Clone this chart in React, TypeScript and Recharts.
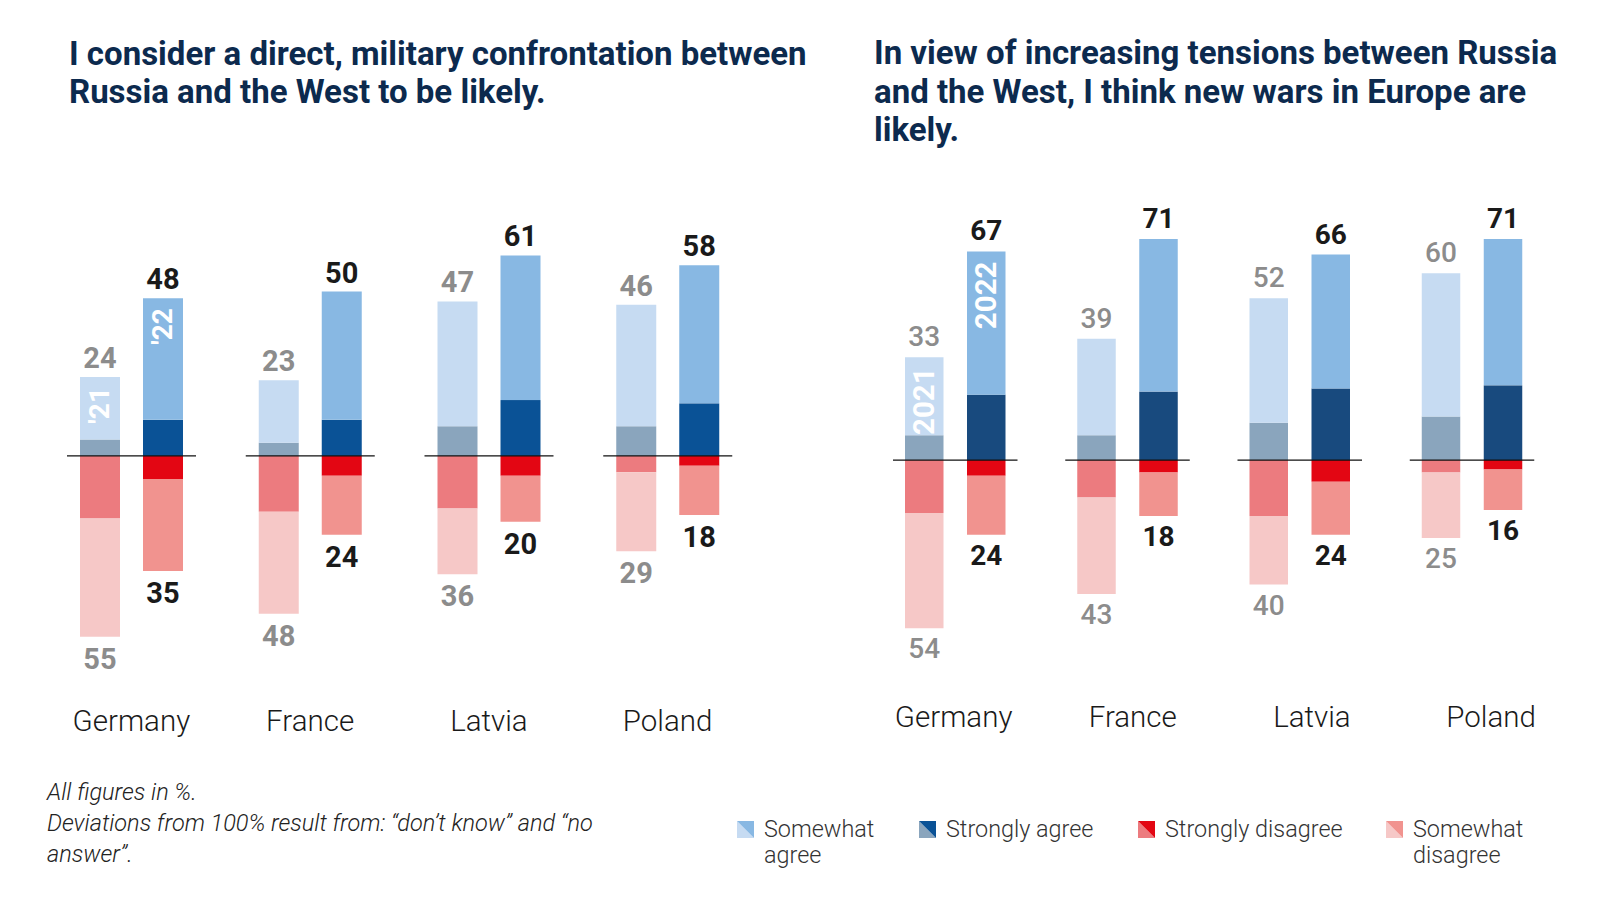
import { BarChart, Bar, XAxis, YAxis, LabelList } from "recharts";

const COUNTRIES = ["Germany", "France", "Latvia", "Poland"];

// "I consider a direct, military confrontation between Russia and the West to be likely."
const conflictStrongAgree21 = [5, 4, 9, 9];
const conflictSomewhatAgree21 = [19, 19, 38, 37];
const conflictStrongDisagree21 = [19, 17, 16, 5];
const conflictSomewhatDisagree21 = [36, 31, 20, 24];
const conflictStrongAgree22 = [11, 11, 17, 16];
const conflictSomewhatAgree22 = [37, 39, 44, 42];
const conflictStrongDisagree22 = [7, 6, 6, 3];
const conflictSomewhatDisagree22 = [28, 18, 14, 15];
const conflictAgreeTotal21 = [24, 23, 47, 46];
const conflictDisagreeTotal21 = [55, 48, 36, 29];
const conflictAgreeTotal22 = [48, 50, 61, 58];
const conflictDisagreeTotal22 = [35, 24, 20, 18];

// "In view of increasing tensions ... new wars in Europe are likely."
const warsStrongAgree21 = [8, 8, 12, 14];
const warsSomewhatAgree21 = [25, 31, 40, 46];
const warsStrongDisagree21 = [17, 12, 18, 4];
const warsSomewhatDisagree21 = [37, 31, 22, 21];
const warsStrongAgree22 = [21, 22, 23, 24];
const warsSomewhatAgree22 = [46, 49, 43, 47];
const warsStrongDisagree22 = [5, 4, 7, 3];
const warsSomewhatDisagree22 = [19, 14, 17, 13];
const warsAgreeTotal21 = [33, 39, 52, 60];
const warsDisagreeTotal21 = [54, 43, 40, 25];
const warsAgreeTotal22 = [67, 71, 66, 71];
const warsDisagreeTotal22 = [24, 18, 24, 16];

const FONT = "Roboto, sans-serif";
const TITLE_COLOR = "#0c2a4e";
const GRAY_LABEL = "#8c8c8c";
const DARK_LABEL = "#1a1a1a";

const COLORS = {
  somewhatAgree21: "#c6dbf2",
  strongAgree21: "#8aa5bd",
  strongDisagree21: "#ec7b7f",
  somewhatDisagree21: "#f6c8c7",
  somewhatAgree22: "#88b8e3",
  strongDisagree22: "#e30613",
  somewhatDisagree22: "#f1938f",
};

type Row = {
  country: string;
  sa21: number;
  wa21: number;
  sd21: number;
  wd21: number;
  sa22: number;
  wa22: number;
  sd22: number;
  wd22: number;
};

const buildRows = (
  sa21: number[],
  wa21: number[],
  sd21: number[],
  wd21: number[],
  sa22: number[],
  wa22: number[],
  sd22: number[],
  wd22: number[]
): Row[] =>
  COUNTRIES.map((country, i) => ({
    country,
    sa21: sa21[i],
    wa21: wa21[i],
    sd21: -sd21[i],
    wd21: -wd21[i],
    sa22: sa22[i],
    wa22: wa22[i],
    sd22: -sd22[i],
    wd22: -wd22[i],
  }));

const conflictRows = buildRows(
  conflictStrongAgree21,
  conflictSomewhatAgree21,
  conflictStrongDisagree21,
  conflictSomewhatDisagree21,
  conflictStrongAgree22,
  conflictSomewhatAgree22,
  conflictStrongDisagree22,
  conflictSomewhatDisagree22
);

const warsRows = buildRows(
  warsStrongAgree21,
  warsSomewhatAgree21,
  warsStrongDisagree21,
  warsSomewhatDisagree21,
  warsStrongAgree22,
  warsSomewhatAgree22,
  warsStrongDisagree22,
  warsSomewhatDisagree22
);

const readBox = (p: any) => {
  const vb = p.viewBox && p.viewBox.width !== undefined ? p.viewBox : p;
  const x = Number(vb.x);
  const y = Number(vb.y);
  const w = Number(vb.width);
  const h = Number(vb.height);
  return { x, w, top: Math.min(y, y + h), bottom: Math.max(y, y + h) };
};

const rowIndex = (p: any) => {
  if (typeof p.index === "number") return p.index;
  const c = p.payload?.country;
  return c ? COUNTRIES.indexOf(c) : -1;
};

type PanelProps = {
  rows: Row[];
  agree21: number[];
  disagree21: number[];
  agree22: number[];
  disagree22: number[];
  width: number;
  height: number;
  margin: { top: number; right: number; bottom: number; left: number };
  xAxisHeight: number;
  tickDy: number;
  tickShift: number;
  tickStep: number;
  barSize: number;
  barGap: number;
  domain: [number, number];
  lineExt: number;
  labelSize: number;
  grayWeight: number;
  topGap: number;
  bottomGap: number;
  yearLabels: [string, string];
  yearSize: number;
  strongAgree22: string;
};

const Panel = (props: PanelProps) => {
  const {
    rows,
    agree21,
    disagree21,
    agree22,
    disagree22,
    barGap,
    lineExt,
    labelSize,
    grayWeight,
    topGap,
    bottomGap,
    yearLabels,
    yearSize,
    strongAgree22,
  } = props;

  const topLabel = (totals: number[], color: string, weight: number, year?: string) => (p: any) => {
    const i = rowIndex(p);
    if (i < 0) return null;
    const { x, w, top } = readBox(p);
    const cx = x + w / 2;
    return (
      <g>
        <text
          x={cx}
          y={top - topGap}
          textAnchor="middle"
          fill={color}
          fontSize={labelSize}
          fontWeight={weight}
          fontFamily={FONT}
        >
          {totals[i]}
        </text>
        {year && i === 0 ? (
          <text
            x={cx}
            y={top + 10}
            textAnchor="end"
            dominantBaseline="central"
            transform={`rotate(-90, ${cx}, ${top + 10})`}
            fill="#ffffff"
            fontSize={yearSize}
            fontWeight={700}
            fontFamily={FONT}
          >
            {year}
          </text>
        ) : null}
      </g>
    );
  };

  const bottomLabel = (totals: number[], color: string, weight: number) => (p: any) => {
    const i = rowIndex(p);
    if (i < 0) return null;
    const { x, w, bottom } = readBox(p);
    return (
      <text
        x={x + w / 2}
        y={bottom + bottomGap}
        textAnchor="middle"
        fill={color}
        fontSize={labelSize}
        fontWeight={weight}
        fontFamily={FONT}
      >
        {totals[i]}
      </text>
    );
  };

  // strongly agree 2022 sits on the zero line: draw the per-country baseline with it
  const zeroLineBar = (p: any) => {
    const x = Number(p.x);
    const y = Number(p.y);
    const w = Number(p.width);
    const h = Number(p.height);
    const base = y + h;
    return (
      <g>
        <rect x={x} y={Math.min(y, base)} width={w} height={Math.abs(h)} fill={strongAgree22} />
        <line
          x1={x - w - barGap - lineExt}
          x2={x + w + lineExt}
          y1={base}
          y2={base}
          stroke="#111111"
          strokeWidth={1.3}
        />
      </g>
    );
  };

  const CountryTick = (t: any) => (
    <text
      x={Number(t.x) + props.tickShift + (t.index ?? 0) * props.tickStep}
      y={Number(t.y) + props.tickDy}
      textAnchor="middle"
      fill="#1a1a1a"
      fontSize={29.5}
      fontWeight={300}
      fontFamily={FONT}
    >
      {t.payload.value}
    </text>
  );

  return (
    <BarChart
      width={props.width}
      height={props.height}
      data={rows}
      margin={props.margin}
      stackOffset="sign"
      barSize={props.barSize}
      barGap={barGap}
    >
      <XAxis
        dataKey="country"
        axisLine={false}
        tickLine={false}
        tickSize={0}
        tickMargin={0}
        interval={0}
        height={props.xAxisHeight}
        tick={CountryTick}
      />
      <YAxis hide type="number" domain={props.domain} allowDataOverflow />
      <Bar dataKey="sa21" stackId="y21" fill={COLORS.strongAgree21} isAnimationActive={false} />
      <Bar dataKey="wa21" stackId="y21" fill={COLORS.somewhatAgree21} isAnimationActive={false}>
        <LabelList dataKey="wa21" content={topLabel(agree21, GRAY_LABEL, grayWeight, yearLabels[0])} />
      </Bar>
      <Bar dataKey="sd21" stackId="y21" fill={COLORS.strongDisagree21} isAnimationActive={false} />
      <Bar dataKey="wd21" stackId="y21" fill={COLORS.somewhatDisagree21} isAnimationActive={false}>
        <LabelList dataKey="wd21" content={bottomLabel(disagree21, GRAY_LABEL, grayWeight)} />
      </Bar>
      <Bar dataKey="sd22" stackId="y22" fill={COLORS.strongDisagree22} isAnimationActive={false} />
      <Bar dataKey="wd22" stackId="y22" fill={COLORS.somewhatDisagree22} isAnimationActive={false}>
        <LabelList dataKey="wd22" content={bottomLabel(disagree22, DARK_LABEL, 700)} />
      </Bar>
      <Bar
        dataKey="sa22"
        stackId="y22"
        fill={strongAgree22}
        shape={zeroLineBar}
        isAnimationActive={false}
      />
      <Bar dataKey="wa22" stackId="y22" fill={COLORS.somewhatAgree22} isAnimationActive={false}>
        <LabelList dataKey="wa22" content={topLabel(agree22, DARK_LABEL, 700, yearLabels[1])} />
      </Bar>
    </BarChart>
  );
};

const Swatch = ({ light, dark }: { light: string; dark: string }) => (
  <svg width={17} height={17} style={{ position: "absolute", left: 0, top: 5 }}>
    <polygon points="0,0 0,17 17,17" fill={light} />
    <polygon points="0,0 17,0 17,17" fill={dark} />
  </svg>
);

const LEGEND = [
  { left: 737, light: COLORS.somewhatAgree21, dark: COLORS.somewhatAgree22, lines: ["Somewhat", "agree"] },
  { left: 919, light: COLORS.strongAgree21, dark: "#0a5296", lines: ["Strongly agree"] },
  { left: 1138, light: COLORS.strongDisagree21, dark: COLORS.strongDisagree22, lines: ["Strongly disagree"] },
  { left: 1386, light: COLORS.somewhatDisagree21, dark: COLORS.somewhatDisagree22, lines: ["Somewhat", "disagree"] },
];

const App = () => {
  return (
    <div
      style={{
        position: "absolute",
        left: 0,
        top: 0,
        width: 1600,
        height: 913,
        background: "#ffffff",
        fontFamily: FONT,
        overflow: "hidden",
      }}
    >
      <div
        style={{
          position: "absolute",
          left: 69,
          top: 35,
          fontSize: 33,
          fontWeight: 700,
          lineHeight: "38px",
          color: TITLE_COLOR,
          whiteSpace: "nowrap",
        }}
      >
        I consider a direct, military confrontation between
        <br />
        Russia and the West to be likely.
      </div>
      <div
        style={{
          position: "absolute",
          left: 874,
          top: 34,
          fontSize: 33,
          fontWeight: 700,
          lineHeight: "38.5px",
          color: TITLE_COLOR,
          whiteSpace: "nowrap",
        }}
      >
        In view of increasing tensions between Russia
        <br />
        and the West, I think new wars in Europe are
        <br />
        likely.
      </div>

      <div style={{ position: "absolute", left: 0, top: 0 }}>
        <Panel
          rows={conflictRows}
          agree21={conflictAgreeTotal21}
          disagree21={conflictDisagreeTotal21}
          agree22={conflictAgreeTotal22}
          disagree22={conflictDisagreeTotal22}
          width={780}
          height={760}
          margin={{ top: 193, right: 23, bottom: 0, left: 42 }}
          xAxisHeight={74}
          tickDy={45}
          tickShift={0}
          tickStep={0}
          barSize={40}
          barGap={23}
          domain={[-70, 80]}
          lineExt={13}
          labelSize={29}
          grayWeight={700}
          topGap={9}
          bottomGap={32}
          yearLabels={["'21", "'22"]}
          yearSize={28}
          strongAgree22="#0a5296"
        />
      </div>

      <div style={{ position: "absolute", left: 820, top: 0 }}>
        <Panel
          rows={warsRows}
          agree21={warsAgreeTotal21}
          disagree21={warsDisagreeTotal21}
          agree22={warsAgreeTotal22}
          disagree22={warsDisagreeTotal22}
          width={760}
          height={760}
          margin={{ top: 211, right: 22, bottom: 0, left: 49 }}
          xAxisHeight={82}
          tickDy={49}
          tickShift={-1.5}
          tickStep={6.9}
          barSize={38.5}
          barGap={23.5}
          domain={[-70, 80]}
          lineExt={12}
          labelSize={28}
          grayWeight={500}
          topGap={11}
          bottomGap={30}
          yearLabels={["2021", "2022"]}
          yearSize={29.5}
          strongAgree22="#184a7e"
        />
      </div>

      <div
        style={{
          position: "absolute",
          left: 47,
          top: 777,
          fontSize: 23.5,
          fontWeight: 300,
          fontStyle: "italic",
          lineHeight: "31px",
          color: "#222222",
          whiteSpace: "nowrap",
        }}
      >
        All figures in %.
        <br />
        Deviations from 100% result from: “don’t know” and “no
        <br />
        answer”.
      </div>

      {LEGEND.map((item) => (
        <div
          key={item.lines.join(" ")}
          style={{
            position: "absolute",
            left: item.left,
            top: 816,
            paddingLeft: 27,
            fontSize: 23.4,
            fontWeight: 300,
            lineHeight: "26px",
            color: "#333333",
            whiteSpace: "nowrap",
          }}
        >
          <Swatch light={item.light} dark={item.dark} />
          {item.lines.map((l) => (
            <div key={l}>{l}</div>
          ))}
        </div>
      ))}
    </div>
  );
};

export default App;
